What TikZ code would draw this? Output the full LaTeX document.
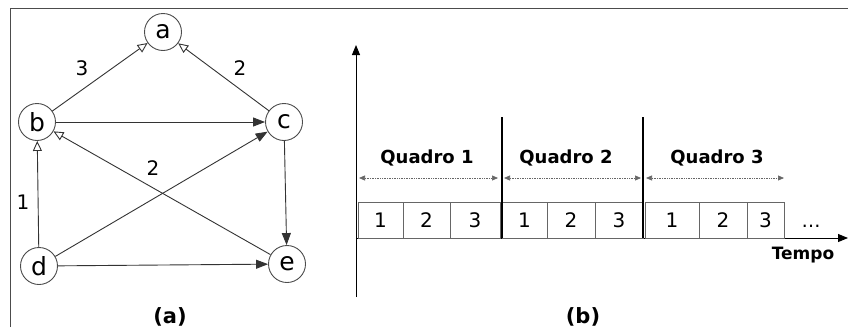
\documentclass[tikz,border=0pt]{standalone}
\usepackage{fontspec}
\setmainfont{DejaVu Sans}
\usetikzlibrary{arrows.meta}

\begin{document}
\begin{tikzpicture}[x=1pt,y=-1pt,
  v/.style={circle,draw=black!70,line width=0.9pt,fill=white,minimum size=37pt,inner sep=0pt,font=\fontsize{25}{25}\selectfont},
  wt/.style={font=\fontsize{20}{20}\selectfont},
  hollow/.style={draw=black!80,line width=0.9pt,-{Triangle[open,length=10pt,width=9pt]}},
  full/.style={draw=black!80,line width=0.9pt,-{Triangle[length=12pt,width=9pt]}},
  slot/.style={draw=black!60,line width=0.9pt,minimum height=36pt,inner sep=0pt,font=\fontsize{20}{20}\selectfont},
  span/.style={densely dotted,black!60,line width=0.7pt,{Triangle[length=6pt,width=5pt]}-{Triangle[length=6pt,width=5pt]}},
  axis/.style={line width=1pt,-{Triangle[length=10pt,width=8pt]}},
  sep/.style={line width=1.8pt},
  ttl/.style={font=\bfseries\fontsize{18}{18}\selectfont},
  sub/.style={font=\bfseries\fontsize{21}{21}\selectfont}]
\useasboundingbox (0,0) rectangle (848,327);
\draw[black!70,line width=1pt] (10,327) -- (10,8) -- (848,8);

% (a) the graph
\node[v] (a) at (163,32) {a};
\node[v] (b) at (37,122) {b};
\node[v] (c) at (284,122) {c};
\node[v] (d) at (39,266) {d};
\node[v] (e) at (287,264) {e};
\draw[hollow] (b)--(a); \draw[hollow] (c)--(a);
\draw[full] (b)--(c); \draw[full] (d)--(c);
\draw[hollow] (e)--(b); \draw[hollow] (d)--(b);
\draw[full] (c)--(e); \draw[full] (d)--(e);
\node[wt] (w1) at (82,68) {3};
\node[wt] (w2) at (240,68) {2};
\node[wt] (w3) at (153,168) {2};
\node[wt] (w4) at (23,202) {1};
\node[sub] (la) at (170,317) {(a)};

% (b) frames on the time axis
\coordinate (o) at (356,238);
\coordinate (ytop) at (356,45);
\coordinate (ybot) at (356,297);
\coordinate (xend) at (848,238);
\draw[axis] (ybot)--(ytop);
\draw[axis] (o)--(xend);
\foreach \n/\l/\r/\t in {f1a/358/403/1,f1b/403/450/2,f1c/450/500/3,
    f2a/502/547/1,f2b/547/595/2,f2c/595/643/3,
    f3a/645/699/1,f3b/699/747/2,f3c/747/784/3}
  \node[slot,minimum width={\r-\l}] (\n) at ({(\l+\r)/2},220) {\t};
\foreach \i/\x in {1/502,2/643}{
  \coordinate (s\i t) at (\x,117);
  \coordinate (s\i b) at (\x,238);
  \draw[sep] (s\i t)--(s\i b);}
\foreach \i/\l/\r/\x in {1/359/498/427,2/504/641/566,3/646/784/717}{
  \coordinate (q\i l) at (\l,178);
  \coordinate (q\i r) at (\r,178);
  \draw[span] (q\i l)--(q\i r);
  \node[ttl] (q\i) at (\x,158) {Quadro \i};}
\node[font=\fontsize{19}{19}\selectfont] (more) at (811,226) {\ldots};
\node[ttl,font=\bfseries\fontsize{17}{17}\selectfont] (tempo) at (803,255) {Tempo};
\node[sub] (lb) at (583,317) {(b)};
\end{tikzpicture}
\end{document}
